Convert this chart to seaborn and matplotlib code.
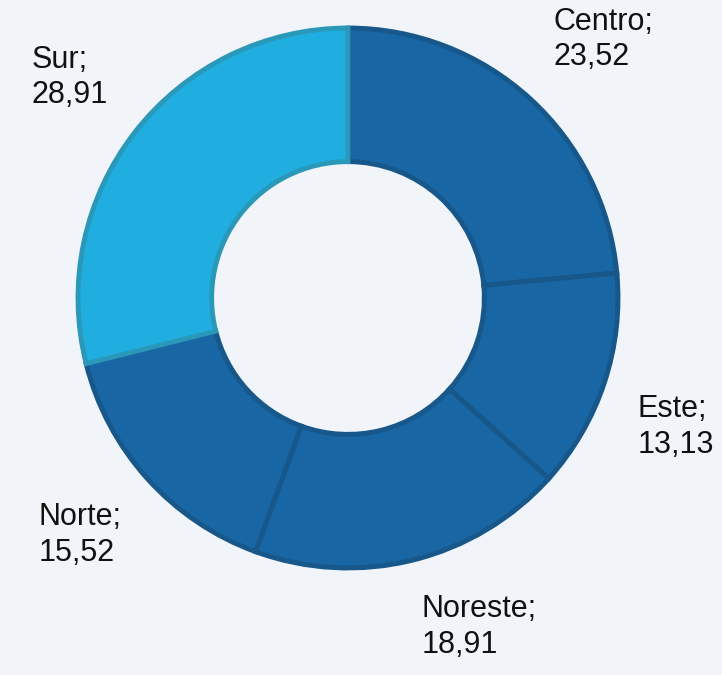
import numpy as np
import matplotlib
matplotlib.use('Agg')
import matplotlib.pyplot as plt
import seaborn as sns

regions = ['Centro', 'Este', 'Noreste', 'Norte', 'Sur']
shares = [23.52, 13.13, 18.91, 15.52, 28.91]
labels = ['Centro;\n23,52', 'Este;\n13,13', 'Noreste;\n18,91', 'Norte;\n15,52', 'Sur;\n28,91']

bg = '#f1f5fa'
dark_fill = '#1866a3'
dark_edge = '#17578a'
light_fill = '#20aee0'
light_edge = '#2a98b8'

sns.set_theme(style='white')
plt.rcParams['font.family'] = ['Liberation Sans', 'DejaVu Sans']

fig = plt.figure(figsize=(7.22, 6.75), dpi=100, facecolor=bg)
ax = fig.add_axes([0, 0, 1, 1])
ax.set_facecolor(bg)

fills = [light_fill if r == 'Sur' else dark_fill for r in regions]
edges = [light_edge if r == 'Sur' else dark_edge for r in regions]

wedges, _ = ax.pie(shares, startangle=90, counterclock=False, colors=fills,
                   radius=1.0, wedgeprops=dict(width=0.495, linewidth=3.5))
for w, ec in zip(wedges, edges):
    w.set_edgecolor(ec)

# labels outside the ring, anchored by the corner nearest the wedge's mid angle
total = sum(shares)
cum = np.cumsum([0] + shares)
for i, lab in enumerate(labels):
    mid = (cum[i] + shares[i] / 2) / total * 360
    theta = np.deg2rad(90 - mid)
    r = 1.13
    x, y = r * np.cos(theta), r * np.sin(theta)
    ax.text(x, y, lab, ha='left' if x > 0 else 'right', va='bottom' if y > 0 else 'top',
            multialignment='left', fontsize=22, color='#111111', linespacing=1.25)

ax.set_xlim(-348 / 270, (722 - 348) / 270)
ax.set_ylim(-(675 - 298) / 270, 298 / 270)
ax.set_aspect('equal')
ax.axis('off')

fig.savefig('out.png', dpi=100, facecolor=bg)
